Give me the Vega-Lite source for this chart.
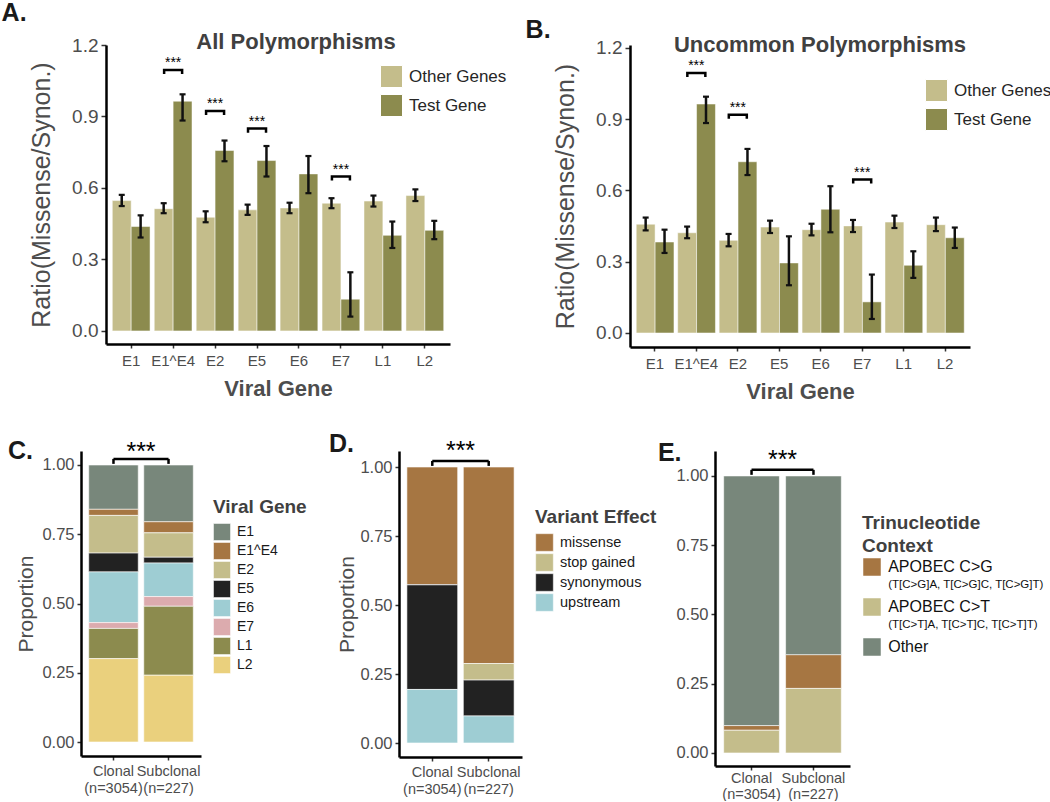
{
 "$schema": "https://vega.github.io/schema/vega-lite/v6.json",
 "padding": {"left": 1, "top": 1, "right": 2, "bottom": 0},
 "background": "white",
 "config": {
  "font": "Liberation Sans",
  "view": {"stroke": null},
  "axis": {"grid": false, "domainColor": "black", "domainWidth": 2.5, "tickColor": "#333333", "tickWidth": 1.5, "tickSize": 4, "labelColor": "#4d4d4d", "titleColor": "#4d4d4d", "titleFontWeight": "normal", "labelPadding": 3},
  "legend": {"padding": 0}
 },
 "datasets": {
  "A": [
   {"gene": "E1", "group": "Other Genes", "value": 0.547, "lo": 0.524, "hi": 0.571},
   {"gene": "E1", "group": "Test Gene", "value": 0.438, "lo": 0.392, "hi": 0.485},
   {"gene": "E1^E4", "group": "Other Genes", "value": 0.513, "lo": 0.494, "hi": 0.536},
   {"gene": "E1^E4", "group": "Test Gene", "value": 0.964, "lo": 0.883, "hi": 0.993},
   {"gene": "E2", "group": "Other Genes", "value": 0.477, "lo": 0.456, "hi": 0.502},
   {"gene": "E2", "group": "Test Gene", "value": 0.757, "lo": 0.712, "hi": 0.799},
   {"gene": "E5", "group": "Other Genes", "value": 0.508, "lo": 0.487, "hi": 0.530},
   {"gene": "E5", "group": "Test Gene", "value": 0.715, "lo": 0.648, "hi": 0.776},
   {"gene": "E6", "group": "Other Genes", "value": 0.516, "lo": 0.494, "hi": 0.538},
   {"gene": "E6", "group": "Test Gene", "value": 0.659, "lo": 0.578, "hi": 0.734},
   {"gene": "E7", "group": "Other Genes", "value": 0.536, "lo": 0.515, "hi": 0.557},
   {"gene": "E7", "group": "Test Gene", "value": 0.133, "lo": 0.060, "hi": 0.246},
   {"gene": "L1", "group": "Other Genes", "value": 0.545, "lo": 0.522, "hi": 0.568},
   {"gene": "L1", "group": "Test Gene", "value": 0.401, "lo": 0.348, "hi": 0.459},
   {"gene": "L2", "group": "Other Genes", "value": 0.568, "lo": 0.545, "hi": 0.594},
   {"gene": "L2", "group": "Test Gene", "value": 0.422, "lo": 0.385, "hi": 0.462}
  ],
  "Abr": [
   {"gene": "E1^E4", "y": 1.095},
   {"gene": "E2", "y": 0.923},
   {"gene": "E5", "y": 0.849},
   {"gene": "E7", "y": 0.648}
  ],
  "B": [
   {"gene": "E1", "group": "Other Genes", "value": 0.458, "lo": 0.432, "hi": 0.486},
   {"gene": "E1", "group": "Test Gene", "value": 0.383, "lo": 0.337, "hi": 0.435},
   {"gene": "E1^E4", "group": "Other Genes", "value": 0.422, "lo": 0.399, "hi": 0.448},
   {"gene": "E1^E4", "group": "Test Gene", "value": 0.964, "lo": 0.884, "hi": 0.995},
   {"gene": "E2", "group": "Other Genes", "value": 0.390, "lo": 0.365, "hi": 0.417},
   {"gene": "E2", "group": "Test Gene", "value": 0.721, "lo": 0.665, "hi": 0.775},
   {"gene": "E5", "group": "Other Genes", "value": 0.446, "lo": 0.421, "hi": 0.473},
   {"gene": "E5", "group": "Test Gene", "value": 0.295, "lo": 0.201, "hi": 0.407},
   {"gene": "E6", "group": "Other Genes", "value": 0.435, "lo": 0.411, "hi": 0.460},
   {"gene": "E6", "group": "Test Gene", "value": 0.521, "lo": 0.424, "hi": 0.618},
   {"gene": "E7", "group": "Other Genes", "value": 0.451, "lo": 0.425, "hi": 0.476},
   {"gene": "E7", "group": "Test Gene", "value": 0.131, "lo": 0.059, "hi": 0.246},
   {"gene": "L1", "group": "Other Genes", "value": 0.467, "lo": 0.442, "hi": 0.494},
   {"gene": "L1", "group": "Test Gene", "value": 0.285, "lo": 0.232, "hi": 0.344},
   {"gene": "L2", "group": "Other Genes", "value": 0.456, "lo": 0.429, "hi": 0.486},
   {"gene": "L2", "group": "Test Gene", "value": 0.401, "lo": 0.358, "hi": 0.444}
  ],
  "Bbr": [
   {"gene": "E1^E4", "y": 1.095},
   {"gene": "E2", "y": 0.919},
   {"gene": "E7", "y": 0.646}
  ],
  "C": [
   {"status": "Clonal (n=3054)", "gene": "E1", "p": 0.160},
   {"status": "Clonal (n=3054)", "gene": "E1^E4", "p": 0.022},
   {"status": "Clonal (n=3054)", "gene": "E2", "p": 0.136},
   {"status": "Clonal (n=3054)", "gene": "E5", "p": 0.068},
   {"status": "Clonal (n=3054)", "gene": "E6", "p": 0.183},
   {"status": "Clonal (n=3054)", "gene": "E7", "p": 0.021},
   {"status": "Clonal (n=3054)", "gene": "L1", "p": 0.109},
   {"status": "Clonal (n=3054)", "gene": "L2", "p": 0.301},
   {"status": "Subclonal (n=227)", "gene": "E1", "p": 0.205},
   {"status": "Subclonal (n=227)", "gene": "E1^E4", "p": 0.040},
   {"status": "Subclonal (n=227)", "gene": "E2", "p": 0.088},
   {"status": "Subclonal (n=227)", "gene": "E5", "p": 0.021},
   {"status": "Subclonal (n=227)", "gene": "E6", "p": 0.121},
   {"status": "Subclonal (n=227)", "gene": "E7", "p": 0.035},
   {"status": "Subclonal (n=227)", "gene": "L1", "p": 0.249},
   {"status": "Subclonal (n=227)", "gene": "L2", "p": 0.241}
  ],
  "D": [
   {"status": "Clonal (n=3054)", "effect": "missense", "p": 0.427},
   {"status": "Clonal (n=3054)", "effect": "stop gained", "p": 0.0},
   {"status": "Clonal (n=3054)", "effect": "synonymous", "p": 0.379},
   {"status": "Clonal (n=3054)", "effect": "upstream", "p": 0.194},
   {"status": "Subclonal (n=227)", "effect": "missense", "p": 0.712},
   {"status": "Subclonal (n=227)", "effect": "stop gained", "p": 0.060},
   {"status": "Subclonal (n=227)", "effect": "synonymous", "p": 0.130},
   {"status": "Subclonal (n=227)", "effect": "upstream", "p": 0.098}
  ],
  "E": [
   {"status": "Clonal (n=3054)", "ctx": "APOBEC C>G", "p": 0.017},
   {"status": "Clonal (n=3054)", "ctx": "APOBEC C>T", "p": 0.082},
   {"status": "Clonal (n=3054)", "ctx": "Other", "p": 0.901},
   {"status": "Subclonal (n=227)", "ctx": "APOBEC C>G", "p": 0.122},
   {"status": "Subclonal (n=227)", "ctx": "APOBEC C>T", "p": 0.233},
   {"status": "Subclonal (n=227)", "ctx": "Other", "p": 0.645}
  ],
  "Eleg": [
   {"ctx": "APOBEC C>G", "sub": "(T[C>G]A, T[C>G]C, T[C>G]T)"},
   {"ctx": "APOBEC C>T", "sub": "(T[C>T]A, T[C>T]C, T[C>T]T)"},
   {"ctx": "Other", "sub": ""}
  ],
  "br": [
   {"x": "Clonal (n=3054)", "x2": "Subclonal (n=227)", "y": 1.022, "y2": 1.022},
   {"x": "Clonal (n=3054)", "x2": "Clonal (n=3054)", "y": 1.022, "y2": 1.004},
   {"x": "Subclonal (n=227)", "x2": "Subclonal (n=227)", "y": 1.022, "y2": 1.004}
  ]
 },
 "resolve": {"scale": {"color": "independent"}},
 "columns": 1,
 "align": "none",
 "spacing": 30,
 "concat": [
  {
   "resolve": {"scale": {"color": "independent"}},
   "bounds": "flush",
   "spacing": 20,
   "hconcat": [
    {
     "width": 5, "height": 5,
     "data": {"values": [{"k": 1}]},
     "mark": {"type": "point", "opacity": 0}
    },
    {
     "resolve": {"scale": {"color": "independent"}},
     "spacing": 18,
     "hconcat": [
      {
       "title": {"text": "A.", "anchor": "start", "fontSize": 25, "fontWeight": "bold", "color": "#1a1a1a", "offset": 5, "dx": -28},
       "resolve": {"scale": {"color": "independent"}},
       "vconcat": [
        {
         "width": 344, "height": 299,
         "title": {"text": "All Polymorphisms", "fontSize": 22, "fontWeight": "bold", "color": "#404040", "offset": -18, "dx": 18},
         "layer": [
          {
           "data": {"name": "A"},
           "mark": {"type": "bar", "stroke": "white", "strokeWidth": 0.5},
           "encoding": {
            "x": {"field": "gene", "type": "nominal", "scale": {"domain": ["E1", "E1^E4", "E2", "E5", "E6", "E7", "L1", "L2"], "paddingInner": 0.1, "paddingOuter": 0.15}, "axis": {"title": "Viral Gene", "labelAngle": 0, "labelFontSize": 15, "titleFontSize": 22, "titleFontWeight": "bold", "titlePadding": 10, "labelPadding": 5}},
            "xOffset": {"field": "group", "type": "nominal", "scale": {"domain": ["Other Genes", "Test Gene"], "paddingInner": 0}},
            "y": {"field": "value", "type": "quantitative", "scale": {"domain": [-0.055, 1.2], "nice": false, "zero": false}, "axis": {"values": [0, 0.3, 0.6, 0.9, 1.2], "format": ".1f", "title": "Ratio(Missense/Synon.)", "labelFontSize": 19, "titleFontSize": 25, "titlePadding": 17, "tickSize": 5}},
            "y2": {"datum": 0},
            "color": {"field": "group", "type": "nominal", "scale": {"domain": ["Other Genes", "Test Gene"], "range": ["#c4bd8b", "#8c8b4e"]}, "legend": {"title": null, "orient": "none", "legendX": 274, "legendY": 20, "symbolType": "square", "symbolSize": 484, "symbolStrokeColor": "white", "symbolStrokeWidth": 1, "symbolOpacity": 1, "labelFontSize": 17, "labelColor": "#262626", "rowPadding": 2, "labelOffset": 6}}
           }
          },
          {
           "data": {"name": "A"},
           "mark": {"type": "rule", "strokeWidth": 2.5, "color": "#111111"},
           "encoding": {
            "x": {"field": "gene", "type": "nominal"},
            "xOffset": {"field": "group", "type": "nominal"},
            "y": {"field": "lo", "type": "quantitative"},
            "y2": {"field": "hi"}
           }
          },
          {
           "data": {"name": "A"},
           "mark": {"type": "tick", "size": 6, "thickness": 2.2, "color": "#111111", "opacity": 1},
           "encoding": {
            "x": {"field": "gene", "type": "nominal"},
            "xOffset": {"field": "group", "type": "nominal"},
            "y": {"field": "lo", "type": "quantitative"}
           }
          },
          {
           "data": {"name": "A"},
           "mark": {"type": "tick", "size": 6, "thickness": 2.2, "color": "#111111", "opacity": 1},
           "encoding": {
            "x": {"field": "gene", "type": "nominal"},
            "xOffset": {"field": "group", "type": "nominal"},
            "y": {"field": "hi", "type": "quantitative"}
           }
          },
          {
           "data": {"name": "Abr"},
           "mark": {"type": "point", "shape": "M -1 0.45 L -1 0 L 1 0 L 1 0.45", "size": 324, "filled": false, "color": "black", "strokeWidth": 2.5, "opacity": 1},
           "encoding": {
            "x": {"field": "gene", "type": "nominal"},
            "y": {"field": "y", "type": "quantitative"}
           }
          },
          {
           "data": {"name": "Abr"},
           "mark": {"type": "text", "fontSize": 14, "dy": -3, "baseline": "alphabetic", "color": "black", "text": "***"},
           "encoding": {
            "x": {"field": "gene", "type": "nominal"},
            "y": {"field": "y", "type": "quantitative"}
           }
          }
         ]
        }
       ]
      },
      {
       "title": {"text": "B.", "anchor": "start", "fontSize": 25, "fontWeight": "bold", "color": "#1a1a1a", "offset": 8, "dx": -28, "dy": 17},
       "resolve": {"scale": {"color": "independent"}},
       "vconcat": [
        {
         "width": 340, "height": 302,
         "title": {"text": "Uncommon Polymorphisms", "fontSize": 22, "fontWeight": "bold", "color": "#404040", "offset": -18, "dx": 20},
         "layer": [
          {
           "data": {"name": "B"},
           "mark": {"type": "bar", "stroke": "white", "strokeWidth": 0.5},
           "encoding": {
            "x": {"field": "gene", "type": "nominal", "scale": {"domain": ["E1", "E1^E4", "E2", "E5", "E6", "E7", "L1", "L2"], "paddingInner": 0.1, "paddingOuter": 0.15}, "axis": {"title": "Viral Gene", "labelAngle": 0, "labelFontSize": 15, "titleFontSize": 22, "titleFontWeight": "bold", "titlePadding": 10, "labelPadding": 5}},
            "xOffset": {"field": "group", "type": "nominal", "scale": {"domain": ["Other Genes", "Test Gene"], "paddingInner": 0}},
            "y": {"field": "value", "type": "quantitative", "scale": {"domain": [-0.059, 1.2126], "nice": false, "zero": false}, "axis": {"values": [0, 0.3, 0.6, 0.9, 1.2], "format": ".1f", "title": "Ratio(Missense/Synon.)", "labelFontSize": 19, "titleFontSize": 25, "titlePadding": 17, "tickSize": 5}},
            "y2": {"datum": 0},
            "color": {"field": "group", "type": "nominal", "scale": {"domain": ["Other Genes", "Test Gene"], "range": ["#c4bd8b", "#8c8b4e"]}, "legend": {"title": null, "orient": "none", "legendX": 295, "legendY": 34, "symbolType": "square", "symbolSize": 484, "symbolStrokeColor": "white", "symbolStrokeWidth": 1, "symbolOpacity": 1, "labelFontSize": 17, "labelColor": "#262626", "rowPadding": 2, "labelOffset": 6}}
           }
          },
          {
           "data": {"name": "B"},
           "mark": {"type": "rule", "strokeWidth": 2.5, "color": "#111111"},
           "encoding": {
            "x": {"field": "gene", "type": "nominal"},
            "xOffset": {"field": "group", "type": "nominal"},
            "y": {"field": "lo", "type": "quantitative"},
            "y2": {"field": "hi"}
           }
          },
          {
           "data": {"name": "B"},
           "mark": {"type": "tick", "size": 6, "thickness": 2.2, "color": "#111111", "opacity": 1},
           "encoding": {
            "x": {"field": "gene", "type": "nominal"},
            "xOffset": {"field": "group", "type": "nominal"},
            "y": {"field": "lo", "type": "quantitative"}
           }
          },
          {
           "data": {"name": "B"},
           "mark": {"type": "tick", "size": 6, "thickness": 2.2, "color": "#111111", "opacity": 1},
           "encoding": {
            "x": {"field": "gene", "type": "nominal"},
            "xOffset": {"field": "group", "type": "nominal"},
            "y": {"field": "hi", "type": "quantitative"}
           }
          },
          {
           "data": {"name": "Bbr"},
           "mark": {"type": "point", "shape": "M -1 0.45 L -1 0 L 1 0 L 1 0.45", "size": 324, "filled": false, "color": "black", "strokeWidth": 2.5, "opacity": 1},
           "encoding": {
            "x": {"field": "gene", "type": "nominal"},
            "y": {"field": "y", "type": "quantitative"}
           }
          },
          {
           "data": {"name": "Bbr"},
           "mark": {"type": "text", "fontSize": 14, "dy": -3, "baseline": "alphabetic", "color": "black", "text": "***"},
           "encoding": {
            "x": {"field": "gene", "type": "nominal"},
            "y": {"field": "y", "type": "quantitative"}
           }
          }
         ]
        }
       ]
      }
     ]
    }
   ]
  },
  {
   "resolve": {"scale": {"color": "independent"}},
   "spacing": 0,
   "hconcat": [
    {
     "title": {"text": "C.", "anchor": "start", "fontSize": 25, "fontWeight": "bold", "color": "#1a1a1a", "offset": 0, "dx": -8, "dy": 24},
     "resolve": {"scale": {"color": "independent"}},
     "vconcat": [
      {
       "width": 120, "height": 305,
       "title": {"text": "***", "fontSize": 25, "fontWeight": "normal", "color": "black", "offset": -14},
       "layer": [
        {
         "data": {"name": "C"},
         "mark": {"type": "bar", "stroke": "white", "strokeWidth": 0.6},
         "encoding": {
          "x": {"field": "status", "type": "nominal", "scale": {"domain": ["Clonal (n=3054)", "Subclonal (n=227)"], "paddingInner": 0.1, "paddingOuter": 0.14}, "axis": {"title": null, "labelAngle": 0, "labelExpr": "split(datum.label, ' ')", "labelFontSize": 14.5, "labelLineHeight": 17, "labelPadding": 4}},
          "y": {"field": "p", "type": "quantitative", "stack": "zero", "scale": {"domain": [-0.0505, 1.0505], "nice": false, "zero": false}, "axis": {"values": [0, 0.25, 0.5, 0.75, 1], "format": ".2f", "title": "Proportion", "labelFontSize": 16.5, "titleFontSize": 21, "titlePadding": 5}},
          "color": {"field": "gene", "type": "nominal", "scale": {"domain": ["E1", "E1^E4", "E2", "E5", "E6", "E7", "L1", "L2"], "range": ["#78877b", "#a67642", "#c4bd8b", "#222222", "#9ecdd3", "#dcabae", "#8c8b4e", "#ead07d"]}, "legend": {"title": "Viral Gene", "orient": "none", "legendX": 111, "legendY": 26, "padding": 21, "titleFontSize": 19, "titleFontWeight": "bold", "titleColor": "#404040", "titlePadding": 6, "symbolType": "square", "symbolSize": 289, "symbolStrokeColor": "white", "symbolStrokeWidth": 0.5, "symbolOpacity": 1, "labelFontSize": 14, "labelColor": "#1a1a1a", "rowPadding": -1, "labelOffset": 6}},
          "order": {"field": "gene", "sort": "descending"}
         }
        },
        {
         "data": {"name": "br"},
         "mark": {"type": "rule", "strokeWidth": 2.5, "color": "black"},
         "encoding": {
          "x": {"field": "x", "type": "nominal"},
          "x2": {"field": "x2"},
          "y": {"field": "y", "type": "quantitative"},
          "y2": {"field": "y2"}
         }
        }
       ]
      }
     ]
    },
    {
     "title": {"text": "D.", "anchor": "start", "fontSize": 25, "fontWeight": "bold", "color": "#1a1a1a", "offset": 0, "dx": -8, "dy": 18},
     "resolve": {"scale": {"color": "independent"}},
     "vconcat": [
      {
       "width": 123, "height": 306,
       "title": {"text": "***", "fontSize": 25, "fontWeight": "normal", "color": "black", "offset": -13},
       "layer": [
        {
         "data": {"name": "D"},
         "mark": {"type": "bar", "stroke": "white", "strokeWidth": 0.6},
         "encoding": {
          "x": {"field": "status", "type": "nominal", "scale": {"domain": ["Clonal (n=3054)", "Subclonal (n=227)"], "paddingInner": 0.1, "paddingOuter": 0.14}, "axis": {"title": null, "labelAngle": 0, "labelExpr": "split(datum.label, ' ')", "labelFontSize": 14.5, "labelLineHeight": 17, "labelPadding": 4}},
          "y": {"field": "p", "type": "quantitative", "stack": "zero", "scale": {"domain": [-0.0507, 1.058], "nice": false, "zero": false}, "axis": {"values": [0, 0.25, 0.5, 0.75, 1], "format": ".2f", "title": "Proportion", "labelFontSize": 16.5, "titleFontSize": 21, "titlePadding": 2}},
          "color": {"field": "effect", "type": "nominal", "scale": {"domain": ["missense", "stop gained", "synonymous", "upstream"], "range": ["#a67642", "#c4bd8b", "#222222", "#9ecdd3"]}, "legend": {"title": "Variant Effect", "orient": "none", "legendX": 136, "legendY": 57, "titleFontSize": 19, "titleFontWeight": "bold", "titleColor": "#404040", "titlePadding": 6, "symbolType": "square", "symbolSize": 310, "symbolStrokeColor": "white", "symbolStrokeWidth": 0.5, "symbolOpacity": 1, "labelFontSize": 14.5, "labelColor": "#1a1a1a", "rowPadding": -3.5, "labelOffset": 6}},
          "order": {"field": "effect", "sort": "descending"}
         }
        },
        {
         "data": {"name": "br"},
         "mark": {"type": "rule", "strokeWidth": 2.5, "color": "black"},
         "encoding": {
          "x": {"field": "x", "type": "nominal"},
          "x2": {"field": "x2"},
          "y": {"field": "y", "type": "quantitative"},
          "y2": {"field": "y2"}
         }
        }
       ]
      }
     ]
    },
    {
     "title": {"text": "E.", "anchor": "start", "fontSize": 25, "fontWeight": "bold", "color": "#1a1a1a", "offset": 0, "dx": -18, "dy": 18},
     "resolve": {"scale": {"color": "independent"}},
     "spacing": 12,
     "hconcat": [
      {
       "width": 135, "height": 315,
       "title": {"text": "***", "fontSize": 25, "fontWeight": "normal", "color": "black", "offset": -22},
       "layer": [
        {
         "data": {"name": "E"},
         "transform": [{"calculate": "indexof(['APOBEC C>T', 'APOBEC C>G', 'Other'], datum.ctx)", "as": "rank"}],
         "mark": {"type": "bar", "stroke": "white", "strokeWidth": 0.6},
         "encoding": {
          "x": {"field": "status", "type": "nominal", "scale": {"domain": ["Clonal (n=3054)", "Subclonal (n=227)"], "paddingInner": 0.1, "paddingOuter": 0.14}, "axis": {"title": null, "labelAngle": 0, "labelExpr": "split(datum.label, ' ')", "labelFontSize": 14.5, "labelLineHeight": 16, "labelPadding": 1}},
          "y": {"field": "p", "type": "quantitative", "stack": "zero", "scale": {"domain": [-0.047, 1.09], "nice": false, "zero": false}, "axis": {"values": [0, 0.25, 0.5, 0.75, 1], "format": ".2f", "title": null, "labelFontSize": 16.5}},
          "color": {"field": "ctx", "type": "nominal", "scale": {"domain": ["APOBEC C>G", "APOBEC C>T", "Other"], "range": ["#a67642", "#c4bd8b", "#78877b"]}, "legend": null},
          "order": {"field": "rank", "type": "quantitative", "sort": "ascending"}
         }
        },
        {
         "data": {"name": "br"},
         "mark": {"type": "rule", "strokeWidth": 2.5, "color": "black"},
         "encoding": {
          "x": {"field": "x", "type": "nominal"},
          "x2": {"field": "x2"},
          "y": {"field": "y", "type": "quantitative"},
          "y2": {"field": "y2"}
         }
        }
       ]
      },
      {
       "width": 180, "height": 120,
       "title": {"text": ["Trinucleotide", "Context"], "anchor": "start", "fontSize": 19, "fontWeight": "bold", "color": "#404040", "lineHeight": 23, "offset": -105},
       "data": {"name": "Eleg"},
       "encoding": {
        "y": {"field": "ctx", "type": "nominal", "scale": {"type": "point", "domain": ["APOBEC C>G", "APOBEC C>T", "Other"], "padding": 0.5}, "axis": null}
       },
       "layer": [
        {
         "mark": {"type": "point", "shape": "square", "filled": true, "size": 324, "opacity": 1, "stroke": "white", "strokeWidth": 0.5, "yOffset": 96},
         "encoding": {
          "x": {"datum": 0.5, "type": "quantitative", "scale": {"domain": [0, 10], "nice": false, "zero": false}, "axis": null},
          "color": {"field": "ctx", "type": "nominal", "scale": {"domain": ["APOBEC C>G", "APOBEC C>T", "Other"], "range": ["#a67642", "#c4bd8b", "#78877b"]}, "legend": null}
         }
        },
        {
         "mark": {"type": "text", "align": "left", "baseline": "middle", "fontSize": 16, "color": "#111111", "yOffset": 96},
         "encoding": {
          "x": {"datum": 1.4, "type": "quantitative"},
          "text": {"field": "ctx"}
         }
        },
        {
         "mark": {"type": "text", "align": "left", "baseline": "middle", "fontSize": 11.5, "yOffset": 114, "color": "#111111"},
         "encoding": {
          "x": {"datum": 1.4, "type": "quantitative"},
          "text": {"field": "sub"}
         }
        }
       ]
      }
     ]
    }
   ]
  }
 ]
}
